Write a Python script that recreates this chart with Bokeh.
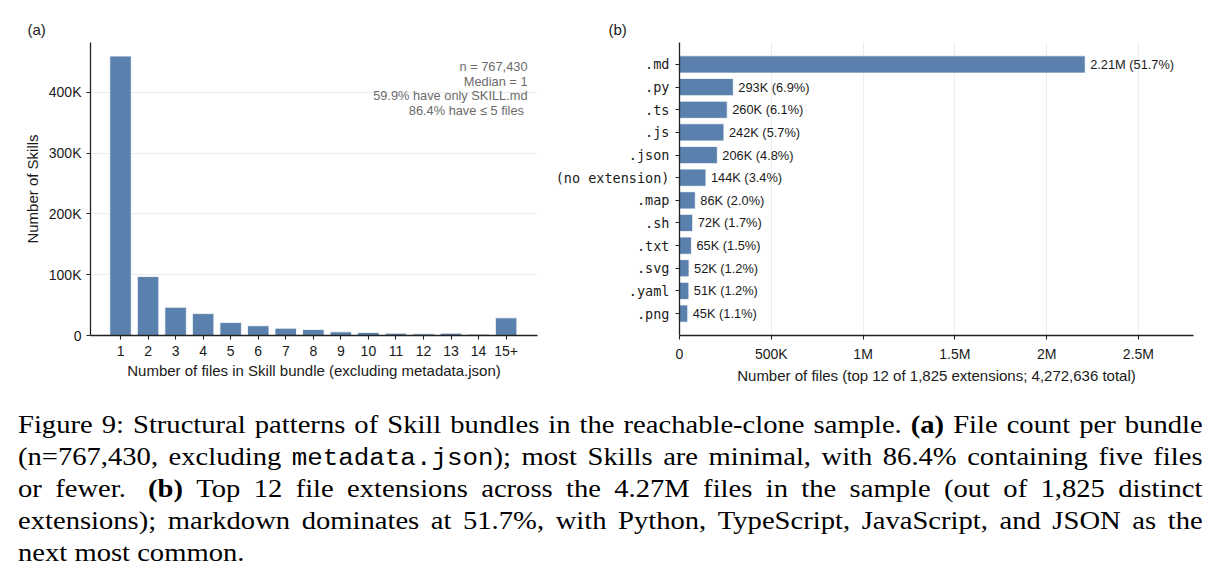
import re
from bokeh.plotting import figure
from bokeh.models import Range1d, FixedTicker, ColumnDataSource, LabelSet, Label, Div
from bokeh.layouts import column, row
from bokeh.core.properties import value
from bokeh.embed import file_html
from bokeh.resources import INLINE

# ---- (a) files per Skill bundle ----
bundle_sizes = ["1", "2", "3", "4", "5", "6", "7", "8", "9", "10", "11", "12", "13", "14", "15+"]
skill_counts = [459700, 97000, 46500, 36000, 21500, 16000, 12000, 10000, 6000, 5000,
                3800, 2700, 3800, 2200, 29000]
count_ticks = [0, 100000, 200000, 300000, 400000]
count_tick_labels = ["0", "100K", "200K", "300K", "400K"]
summary_lines = ["n = 767,430", "Median = 1", "59.9% have only SKILL.md", "86.4% have  \u2264 5 files"]

# ---- (b) most common file extensions ----
extensions = [".md", ".py", ".ts", ".js", ".json", "(no extension)", ".map", ".sh",
              ".txt", ".svg", ".yaml", ".png"]
file_counts = [2210000, 293000, 260000, 242000, 206000, 144000, 86000, 72000,
               65000, 52000, 51000, 45000]
file_shares = [51.7, 6.9, 6.1, 5.7, 4.8, 3.4, 2.0, 1.7, 1.5, 1.2, 1.2, 1.1]
file_ticks = [0, 500000, 1000000, 1500000, 2000000, 2500000]
file_tick_labels = ["0", "500K", "1M", "1.5M", "2M", "2.5M"]

BAR = "#5a80ad"
SANS = "Liberation Sans"
MONO = "DejaVu Sans Mono"
INK = "#1a1a1a"


def style_axes(p):
    p.outline_line_color = None
    p.background_fill_color = "white"
    p.border_fill_color = "white"
    for ax in (p.xaxis, p.yaxis):
        ax.axis_line_color = "#222222"
        ax.axis_line_width = 1.3
        ax.major_tick_line_color = "#222222"
        ax.major_tick_line_width = 1.1
        ax.major_tick_in = 0
        ax.major_tick_out = 4
        ax.minor_tick_line_color = None
        ax.major_label_text_font = SANS
        ax.major_label_text_font_size = "14px"
        ax.major_label_text_color = INK
        ax.axis_label_text_font = SANS
        ax.axis_label_text_font_size = "15px"
        ax.axis_label_text_font_style = "normal"
        ax.axis_label_text_color = INK
    p.title.text_font = SANS
    p.title.text_font_size = "15px"
    p.title.text_font_style = "normal"
    p.title.text_color = INK
    p.title.align = "left"
    p.title.standoff = 10


# ---------- panel (a) ----------
xa = list(range(1, len(bundle_sizes) + 1))
pa = figure(width=550, height=390, output_backend="svg", toolbar_location=None,
            x_range=Range1d(-0.09, 16.14), y_range=Range1d(0, 482000),
            min_border_left=90, min_border_right=13, min_border_top=42, min_border_bottom=55,
            title="(a)")
pa.vbar(x=xa, top=skill_counts, width=0.78, fill_color=BAR, line_color="white", line_width=0.8)
style_axes(pa)
pa.title.offset = -63
pa.xgrid.grid_line_color = None
pa.ygrid.grid_line_color = "#ececec"
pa.ygrid.grid_line_width = 1
pa.xaxis.ticker = FixedTicker(ticks=xa)
pa.xaxis.major_label_overrides = {x: s for x, s in zip(xa, bundle_sizes)}
pa.yaxis.ticker = FixedTicker(ticks=count_ticks)
pa.yaxis.major_label_overrides = {t: s for t, s in zip(count_ticks, count_tick_labels)}
pa.xaxis.axis_label = "Number of files in Skill bundle (excluding metadata.json)"
pa.yaxis.axis_label = "Number of Skills"
pa.xaxis.major_label_standoff = 6
pa.xaxis.axis_label_standoff = 3
pa.yaxis.major_label_standoff = 5
pa.yaxis.axis_label_standoff = 5

for i, line in enumerate(summary_lines):
    pa.add_layout(Label(x=437, y=269 - 14.7 * i, x_units="screen", y_units="screen",
                        text=line, text_align="right", text_baseline="middle",
                        text_font=SANS, text_font_size="12.8px", text_color="#6b6b6b"))

# ---------- panel (b) ----------
yb = [len(extensions) - 1 - i for i in range(len(extensions))]


def short(v):
    return f"{v / 1e6:.2f}M" if v >= 1e6 else f"{v / 1e3:.0f}K"


value_text = [f"{short(v)} ({s:.1f}%)" for v, s in zip(file_counts, file_shares)]
src = ColumnDataSource(dict(y=yb, count=file_counts, text=value_text))

pb = figure(width=670, height=390, output_backend="svg", toolbar_location=None,
            x_range=Range1d(0, 2800000), y_range=Range1d(-0.97, 11.97),
            min_border_left=129, min_border_right=27, min_border_top=42, min_border_bottom=55,
            title="(b)")
pb.hbar(y="y", right="count", left=0, height=0.76, source=src,
        fill_color=BAR, line_color="white", line_width=0.8)
pb.add_layout(LabelSet(x="count", y="y", text="text", source=src, x_offset=5,
                       text_baseline="middle", text_font=value(SANS),
                       text_font_size=value("12.8px"), text_color=INK))
style_axes(pb)
pb.title.offset = -71
pb.ygrid.grid_line_color = None
pb.xgrid.grid_line_color = "#ececec"
pb.xgrid.grid_line_width = 1
pb.xaxis.ticker = FixedTicker(ticks=file_ticks)
pb.xaxis.major_label_overrides = {t: s for t, s in zip(file_ticks, file_tick_labels)}
pb.yaxis.ticker = FixedTicker(ticks=yb)
pb.yaxis.major_label_overrides = {y: s for y, s in zip(yb, extensions)}
pb.yaxis.major_label_text_font = MONO
pb.yaxis.major_label_text_font_size = "13.5px"
pb.xaxis.axis_label = "Number of files (top 12 of 1,825 extensions; 4,272,636 total)"
pb.xaxis.major_label_standoff = 6
pb.xaxis.axis_label_standoff = 2
pb.yaxis.major_label_standoff = 6

# ---------- caption (one entry per typeset line; **bold**, `mono`, ~ = wide gap) ----------
caption_lines = [
    "Figure 9: Structural patterns of Skill bundles in the reachable-clone sample. "
    "**(a)** File count per bundle",
    "(n=767,430, excluding `metadata.json`); most Skills are minimal, with 86.4% containing five files",
    "or fewer.~ **(b)** Top 12 file extensions across the 4.27M files in the sample (out of 1,825 distinct",
    "extensions); markdown dominates at 51.7%, with Python, TypeScript, JavaScript, and JSON as the",
    "next most common.",
]


def markup(word):
    word = re.sub(r"\*\*(.+?)\*\*", r"<b>\1</b>", word)
    word = re.sub(r"`(.+?)`", r"<span class=tt>\1</span>", word)
    return word


rows_html = []
for i, line in enumerate(caption_lines):
    if i == len(caption_lines) - 1:
        rows_html.append(f"<div class=ln>{markup(line)}</div>")
    else:
        spans = []
        for w in line.split():
            if w.endswith("~"):
                spans.append(f"<span class=gap>{markup(w[:-1])}</span>")
            else:
                spans.append(f"<span>{markup(w)}</span>")
        rows_html.append(f"<div class='ln just'>{''.join(spans)}</div>")

caption_html = (
    "<style>"
    ".cap{width:1077px;transform:scaleX(1.1);transform-origin:0 0;"
    "font-family:'Liberation Serif';font-size:26px;line-height:32px;color:#000;}"
    ".ln{white-space:nowrap;height:32px;}"
    ".just{display:flex;justify-content:space-between;}"
    ".tt{font-family:'Liberation Mono';font-size:23.5px;}"
    ".gap{margin-right:8px;}"
    "</style>"
    "<div style='padding-top:19px;padding-left:18px;'><div class=cap>"
    + "".join(rows_html) + "</div></div>")
caption = Div(text=caption_html, width=1220, height=198, margin=(0, 0, 0, 0))

layout = column(row(pa, pb, spacing=0), caption, spacing=0)
open("out.html", "w").write(file_html(layout, INLINE))
